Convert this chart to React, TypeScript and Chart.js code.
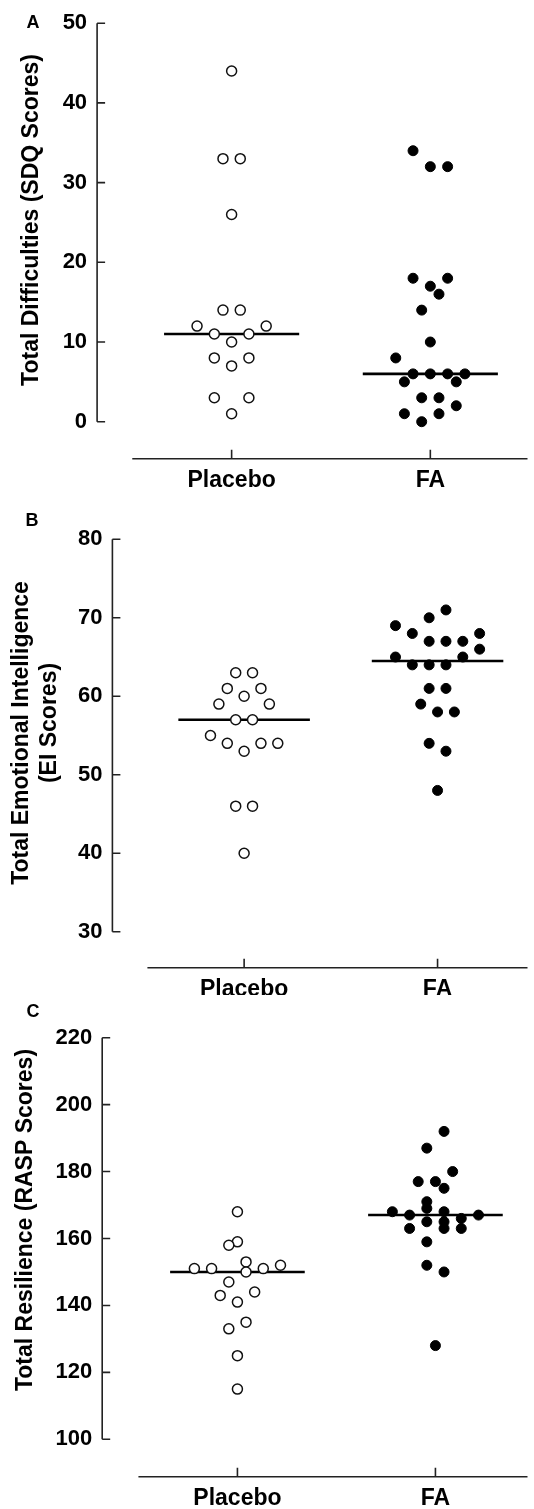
import React, { useEffect, useRef } from "react";
import { Chart, registerables } from "chart.js";

Chart.register(...registerables);

const categories = ["Placebo", "FA"];

// Panel A: Total Difficulties (SDQ Scores)
const placeboA = [44, 33, 33, 26, 14, 14, 12, 12, 11, 11, 10, 8, 8, 7, 3, 3, 1];
const placeboASlot = [0, -1, 1, 0, -1, 1, -4, 4, -2, 2, 0, -2, 2, 0, -2, 2, 0];
const faA = [34, 32, 32, 18, 18, 17, 16, 14, 10, 8, 6, 6, 6, 6, 5, 5, 3, 3, 2, 1, 1, 0];
const faASlot = [-2, 0, 2, -2, 2, 0, 1, -1, 0, -4, -2, 0, 2, 4, -3, 3, -1, 1, 3, -3, 1, -1];
const medianA = [11, 6];
const yTicksA = [0, 10, 20, 30, 40, 50];

// Panel B: Total Emotional Intelligence (EI Scores)
const placeboB = [63, 63, 61, 61, 60, 59, 59, 57, 57, 55, 54, 54, 54, 53, 46, 46, 40];
const placeboBSlot = [-1, 1, -2, 2, 0, -3, 3, -1, 1, -4, -2, 2, 4, 0, -1, 1, 0];
const faB = [71, 70, 69, 68, 68, 67, 67, 67, 66, 65, 65, 64, 64, 64, 61, 61, 59, 58, 58, 54, 53, 48];
const faBSlot = [1, -1, -5, -3, 5, -1, 1, 3, 5, -5, 3, -3, -1, 1, -1, 1, -2, 0, 2, -1, 1, 0];
const medianB = [57, 64.5];
const yTicksB = [30, 40, 50, 60, 70, 80];

// Panel C: Total Resilience (RASP Scores)
const placeboC = [168, 159, 158, 153, 152, 151, 151, 151, 150, 147, 144, 143, 141, 135, 133, 125, 115];
const placeboCSlot = [0, 0, -1, 1, 5, -5, -3, 3, 1, -1, 2, -2, 0, 1, -1, 0, 0];
const faC = [192, 187, 180, 177, 177, 175, 171, 169, 168, 168, 167, 167, 166, 165, 165, 163, 163, 163, 159, 152, 150, 128];
const faCSlot = [1, -1, 2, -2, 0, 1, -1, -1, -5, 1, -3, 5, 3, -1, 1, -3, 1, 3, -1, -1, 1, 0];
const medianC = [150, 167];
const yTicksC = [100, 120, 140, 160, 180, 200, 220];

const SLOT_STEP = 0.0435; // category units per jitter slot
const MEDIAN_HALF = 0.34;
const FONT = "'Liberation Sans', Arial, Helvetica, sans-serif";

type PanelCfg = {
  letter: string;
  title: string[];
  placebo: number[];
  placeboSlot: number[];
  fa: number[];
  faSlot: number[];
  median: number[];
  yTicks: number[];
  top: number;
  height: number;
  chartTop: number;
  chartBottom: number;
  axisX: number;
  xMin: number;
  xMax: number;
  xAxisGap: number;
  titleX: number[];
  titleY: number[];
  letterX: number;
  letterY: number;
};

const panels: PanelCfg[] = [
  {
    letter: "A",
    title: ["Total Difficulties (SDQ Scores)"],
    placebo: placeboA, placeboSlot: placeboASlot, fa: faA, faSlot: faASlot,
    median: medianA, yTicks: yTicksA,
    top: 0, height: 495, chartTop: 20, chartBottom: 421.7, axisX: 97.1,
    xMin: -0.677, xMax: 1.489, xAxisGap: 37,
    titleX: [32], titleY: [220], letterX: 33, letterY: 22.7,
  },
  {
    letter: "B",
    title: ["Total Emotional Intelligence", "(EI Scores)"],
    placebo: placeboB, placeboSlot: placeboBSlot, fa: faB, faSlot: faBSlot,
    median: medianB, yTicks: yTicksB,
    top: 495, height: 500, chartTop: 44.3, chartBottom: 436.7, axisX: 112.4,
    xMin: -0.681, xMax: 1.465, xAxisGap: 36,
    titleX: [22, 50], titleY: [238, 228], letterX: 32, letterY: 25.7,
  },
  {
    letter: "C",
    title: ["Total Resilience (RASP Scores)"],
    placebo: placeboC, placeboSlot: placeboCSlot, fa: faC, faSlot: faCSlot,
    median: medianC, yTicks: yTicksC,
    top: 995, height: 514, chartTop: 42.7, chartBottom: 444.3, axisX: 102.2,
    xMin: -0.683, xMax: 1.465, xAxisGap: 37.4,
    titleX: [26], titleY: [225], letterX: 33, letterY: 17.3,
  },
];

function Panel({ cfg }: { cfg: PanelCfg }) {
  const ref = useRef<HTMLCanvasElement | null>(null);

  useEffect(() => {
    if (!ref.current) return;
    const toPoints = (vals: number[], slots: number[], cat: number) =>
      vals.map((v, i) => ({ x: cat + slots[i] * SLOT_STEP, y: v }));
    const medianLine = (cat: number) => [
      { x: cat - MEDIAN_HALF, y: cfg.median[cat] },
      { x: cat + MEDIAN_HALF, y: cfg.median[cat] },
    ];

    const axesPlugin = {
      id: "prismAxes",
      beforeDatasetsDraw(chart: any) {
        const { ctx, chartArea, scales } = chart;
        const x = scales.x;
        const y = scales.y;
        ctx.save();
        ctx.strokeStyle = "#222";
        ctx.lineWidth = 1.6;
        ctx.beginPath();
        const ax = chartArea.left;
        const yMinPx = y.getPixelForValue(cfg.yTicks[0]);
        const yMaxPx = y.getPixelForValue(cfg.yTicks[cfg.yTicks.length - 1]);
        ctx.moveTo(ax, yMaxPx);
        ctx.lineTo(ax, yMinPx);
        cfg.yTicks.forEach((t) => {
          const py = y.getPixelForValue(t);
          ctx.moveTo(ax, py);
          ctx.lineTo(ax + 8, py);
        });
        const axY = chartArea.bottom + cfg.xAxisGap;
        ctx.moveTo(x.getPixelForValue(-0.5), axY);
        ctx.lineTo(chartArea.right, axY);
        categories.forEach((_, i) => {
          const px = x.getPixelForValue(i);
          ctx.moveTo(px, axY);
          ctx.lineTo(px, axY - 9);
        });
        ctx.stroke();
        ctx.restore();
      },
      afterDraw(chart: any) {
        const { ctx } = chart;
        ctx.save();
        ctx.fillStyle = "#000";
        ctx.textAlign = "center";
        ctx.textBaseline = "middle";
        ctx.font = `bold 18px ${FONT}`;
        ctx.fillText(cfg.letter, cfg.letterX, cfg.letterY);
        ctx.font = `bold 23px ${FONT}`;
        cfg.title.forEach((line, i) => {
          ctx.save();
          ctx.translate(cfg.titleX[i], cfg.titleY[i]);
          ctx.rotate(-Math.PI / 2);
          ctx.fillText(line, 0, 0);
          ctx.restore();
        });
        ctx.restore();
      },
    };

    const labelPad = cfg.xAxisGap + 22 - 13.8;

    const chart = new Chart(ref.current, {
      type: "scatter",
      data: {
        datasets: [
          {
            label: categories[0],
            data: toPoints(cfg.placebo, cfg.placeboSlot, 0),
            pointRadius: 5,
            pointBorderWidth: 1.5,
            pointBackgroundColor: "#fff",
            pointBorderColor: "#111",
            backgroundColor: "#fff",
            borderColor: "#111",
            clip: false,
            order: 1,
          },
          {
            label: categories[1],
            data: toPoints(cfg.fa, cfg.faSlot, 1),
            pointRadius: 5,
            pointBorderWidth: 1,
            pointBackgroundColor: "#000",
            pointBorderColor: "#000",
            backgroundColor: "#000",
            borderColor: "#000",
            clip: false,
            order: 1,
          },
          {
            type: "line",
            label: "median placebo",
            data: medianLine(0),
            borderColor: "#000",
            borderWidth: 2.6,
            pointRadius: 0,
            showLine: true,
            clip: false,
            order: 2,
          },
          {
            type: "line",
            label: "median FA",
            data: medianLine(1),
            borderColor: "#000",
            borderWidth: 2.6,
            pointRadius: 0,
            showLine: true,
            clip: false,
            order: 2,
          },
        ] as any,
      },
      options: {
        responsive: false,
        animation: false,
        events: [],
        layout: { padding: { top: cfg.chartTop, left: 0, right: 0, bottom: 0 } },
        plugins: {
          legend: { display: false },
          tooltip: { enabled: false },
        },
        scales: {
          x: {
            type: "linear",
            min: cfg.xMin,
            max: cfg.xMax,
            grid: { display: false, drawTicks: false, tickLength: 0 },
            border: { display: false },
            afterBuildTicks: (s: any) => {
              s.ticks = categories.map((_, i) => ({ value: i }));
            },
            afterFit: (s: any) => {
              s.height = cfg.height - cfg.chartBottom;
            },
            ticks: {
              autoSkip: false,
              maxRotation: 0,
              minRotation: 0,
              padding: labelPad,
              color: "#000",
              font: { family: FONT, size: 23, weight: "bold" },
              callback: (v: any) => categories[Math.round(Number(v))] ?? "",
            },
          },
          y: {
            type: "linear",
            min: cfg.yTicks[0],
            max: cfg.yTicks[cfg.yTicks.length - 1],
            grid: { display: false, drawTicks: false, tickLength: 0 },
            border: { display: false },
            afterBuildTicks: (s: any) => {
              s.ticks = cfg.yTicks.map((v) => ({ value: v }));
            },
            afterFit: (s: any) => {
              s.width = cfg.axisX;
            },
            ticks: {
              padding: 10,
              color: "#000",
              font: { family: FONT, size: 22, weight: "bold" },
            },
          },
        },
      } as any,
      plugins: [axesPlugin],
    });
    return () => chart.destroy();
  }, [cfg]);

  return (
    <canvas
      ref={ref}
      width={534}
      height={cfg.height}
      style={{ position: "absolute", left: 0, top: cfg.top, width: 534, height: cfg.height }}
    />
  );
}

export default function App() {
  return (
    <div style={{ position: "absolute", left: 0, top: 0, width: 534, height: 1509, background: "#fff" }}>
      {panels.map((p) => (
        <Panel key={p.letter} cfg={p} />
      ))}
    </div>
  );
}
